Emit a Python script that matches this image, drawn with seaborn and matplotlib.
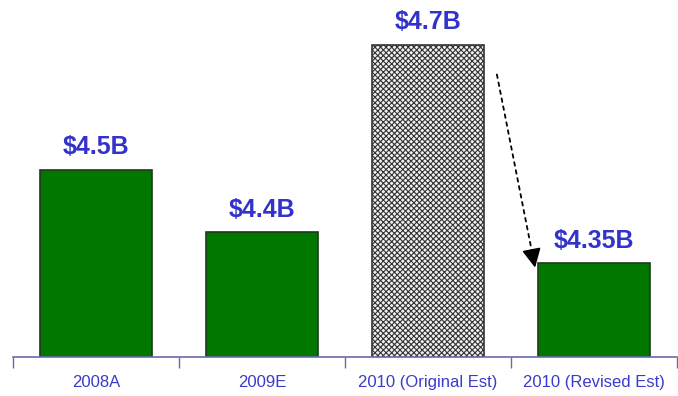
import matplotlib
matplotlib.use("Agg")
import matplotlib.pyplot as plt
import seaborn as sns
import pandas as pd

categories = ["2008A", "2009E", "2010 (Original Est)", "2010 (Revised Est)"]
values = [4.5, 4.4, 4.7, 4.35]
value_labels = ["$4.5B", "$4.4B", "$4.7B", "$4.35B"]

sns.set_theme(style="white")
plt.rcParams["font.family"] = ["Liberation Sans", "DejaVu Sans"]
plt.rcParams["hatch.color"] = "#555555"
plt.rcParams["hatch.linewidth"] = 0.8

df = pd.DataFrame({"category": categories, "value": values})

fig = plt.figure(figsize=(6.78, 3.96), dpi=100)
ax = fig.add_axes([13 / 678, 39 / 396, 664 / 678, 357 / 396])

sns.barplot(data=df, x="category", y="value", ax=ax, width=0.67,
            color="#007800", edgecolor="#1c3a1c", linewidth=1.2, saturation=1)

# the original estimate is drawn as a hatched outline bar
orig = ax.patches[2]
orig.set_facecolor("#f0f0f0")
orig.set_hatch("xxxxxx")
orig.set_edgecolor("#333333")

ax.set_ylim(4.2, 4.2 + 357 / 625)
ax.set_xlim(-0.5, 3.5)

for i, (v, lab) in enumerate(zip(values, value_labels)):
    ax.annotate(lab, (i, v), xytext=(0, 16), textcoords="offset points",
                ha="center", va="center", fontsize=18, fontweight="bold",
                color="#3333cc")

# revision arrow from the original estimate down to the revised figure:
# a dashed shaft with a solid head
start, tip = (2.415, 4.652), (2.645, 4.343)
neck = (start[0] + (tip[0] - start[0]) * 0.95, start[1] + (tip[1] - start[1]) * 0.95)
ax.annotate("", xy=neck, xytext=start,
            arrowprops=dict(arrowstyle="-", color="black", lw=1.3,
                            linestyle=(0, (2, 2.5)), shrinkA=0, shrinkB=0))
ax.annotate("", xy=tip, xytext=neck,
            arrowprops=dict(arrowstyle="-|>,head_length=0.6,head_width=0.3",
                            color="black", lw=1.3, mutation_scale=19,
                            shrinkA=0, shrinkB=0))

for s in ["top", "right", "left"]:
    ax.spines[s].set_visible(False)
ax.spines["bottom"].set_color("#6a6aaa")
ax.spines["bottom"].set_linewidth(1.2)

ax.set_yticks([])
ax.set_xticks([0, 1, 2, 3])
ax.set_xticklabels(categories, color="#3a3acc", fontsize=12)
ax.tick_params(axis="x", length=0, pad=13)
ax.set_xticks([-0.5, 0.5, 1.5, 2.5, 3.5], minor=True)
ax.tick_params(axis="x", which="minor", length=8, width=1, color="#6a6aaa",
               direction="out", bottom=True)
ax.set_xlabel("")
ax.set_ylabel("")

fig.savefig("out.png", dpi=100)
